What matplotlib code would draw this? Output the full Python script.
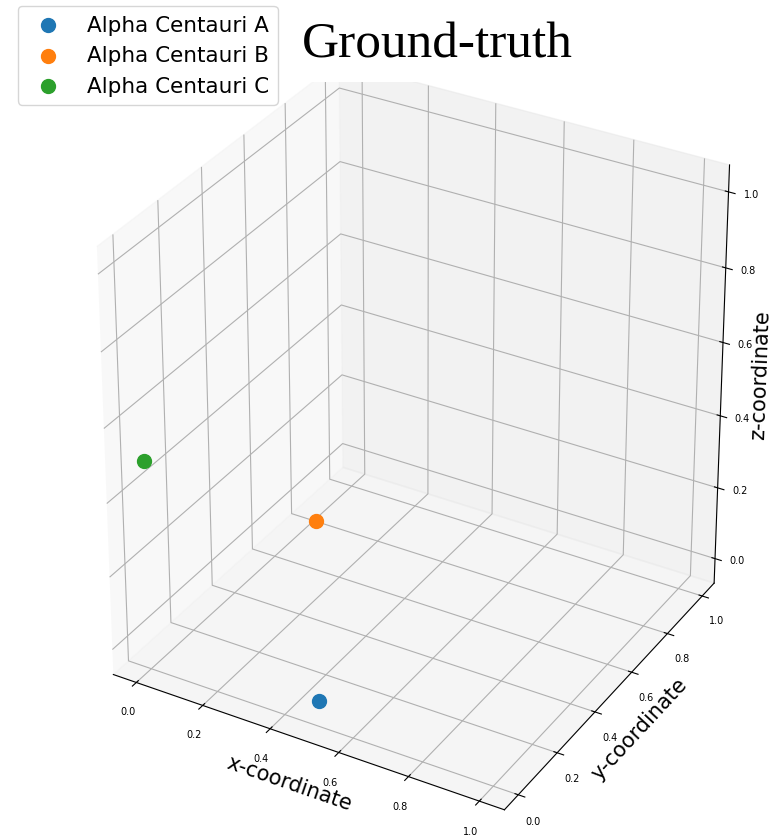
import matplotlib
matplotlib.use("Agg")
import matplotlib.pyplot as plt
from matplotlib.transforms import Bbox, TransformedBbox
from mpl_toolkits.mplot3d import Axes3D

# data
stars = ["Alpha Centauri A", "Alpha Centauri B", "Alpha Centauri C"]
x_vals = [0.50, 0.07, 0.00]
y_vals = [0.00, 0.70, 0.00]
z_vals = [0.00, 0.00, 0.50]
colors = ["#1f77b4", "#ff7f0e", "#2ca02c"]
ticks = [0.0, 0.2, 0.4, 0.6, 0.8, 1.0]
lims = (-0.07, 1.07)


# allow the 3D axes to fill a non-square rectangle (older matplotlib look)
def _keep_rect(self, position=None):
    if position is None:
        position = self.get_position(original=True)
    self._set_position(position, "active")


Axes3D.apply_aspect = _keep_rect

W, H = 776, 837
fig = plt.figure(figsize=(W / 100, H / 100), dpi=100)
cx, cy = 408, 434.5        # centre of the axes (pixels from top-left)
aw, ah = 790, 849          # axes size in pixels
ax = fig.add_axes([(cx - aw / 2) / W, (H - cy - ah / 2) / H, aw / W, ah / H],
                  projection="3d")
ax.set_box_aspect((1, 1, 1), zoom=0.96)
ax.view_init(elev=29.3, azim=-60)

handles = []
for name, x, y, z, c in zip(stars, x_vals, y_vals, z_vals, colors):
    h = ax.scatter([x], [y], [z], s=100, color=c, label=name, depthshade=False)
    handles.append(h)

ax.set_xlim(*lims)
ax.set_ylim(*lims)
ax.set_zlim(*lims)
ax.set_xticks(ticks)
ax.set_yticks(ticks)
ax.set_zticks(ticks)
ax.tick_params(labelsize=7)
ax.set_xlabel("x-coordinate", fontsize=15, labelpad=-1)
ax.set_ylabel("y-coordinate", fontsize=15, labelpad=-0.5)
ax.set_zlabel("z-coordinate", fontsize=15, labelpad=-1)

# the panes and grid are cut off at the top edge of the plotting area
clipbb = TransformedBbox(Bbox([[0, 0], [1, 1 - 83 / H]]), fig.transFigure)
for axis in (ax.xaxis, ax.yaxis, ax.zaxis):
    for art in (axis.pane, axis.gridlines):
        art.set_clip_box(clipbb)
        art.set_clip_on(True)

fig.legend(handles=handles, loc="upper left", bbox_to_anchor=(18 / W, 1 - 7 / H),
           borderaxespad=0, fontsize=15.5)
fig.text(437 / W, 1 - 57 / H, "Ground-truth", family="Liberation Serif",
         fontsize=37, ha="center", va="baseline")

fig.savefig("out.png", dpi=100)
